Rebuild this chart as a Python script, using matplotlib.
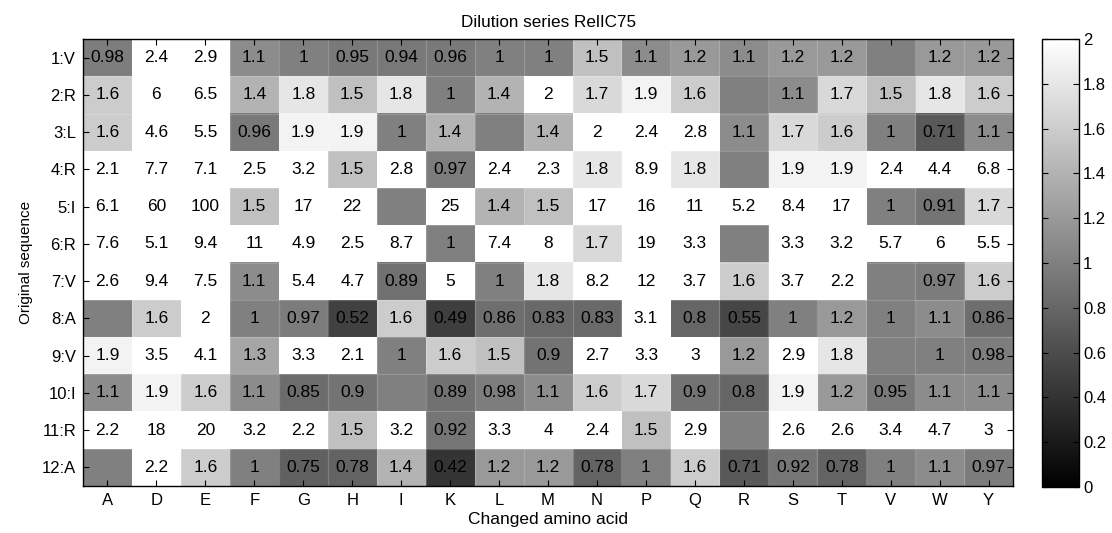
import numpy as np
import matplotlib
matplotlib.use('Agg')
import matplotlib.pyplot as plt

plt.rcParams['font.family'] = ['Liberation Sans', 'DejaVu Sans']

# changed amino acid (columns) and original sequence (rows)
amino_acids = ['A', 'D', 'E', 'F', 'G', 'H', 'I', 'K', 'L', 'M',
               'N', 'P', 'Q', 'R', 'S', 'T', 'V', 'W', 'Y']
positions = ['1:V', '2:R', '3:L', '4:R', '5:I', '6:R',
             '7:V', '8:A', '9:V', '10:I', '11:R', '12:A']

# RelIC75 per row; nan = wild-type residue (no label, drawn as mid grey)
nan = np.nan
row_1 = [0.98, 2.4, 2.9, 1.1, 1, 0.95, 0.94, 0.96, 1, 1, 1.5, 1.1, 1.2, 1.1, 1.2, 1.2, nan, 1.2, 1.2]
row_2 = [1.6, 6, 6.5, 1.4, 1.8, 1.5, 1.8, 1, 1.4, 2, 1.7, 1.9, 1.6, nan, 1.1, 1.7, 1.5, 1.8, 1.6]
row_3 = [1.6, 4.6, 5.5, 0.96, 1.9, 1.9, 1, 1.4, nan, 1.4, 2, 2.4, 2.8, 1.1, 1.7, 1.6, 1, 0.71, 1.1]
row_4 = [2.1, 7.7, 7.1, 2.5, 3.2, 1.5, 2.8, 0.97, 2.4, 2.3, 1.8, 8.9, 1.8, nan, 1.9, 1.9, 2.4, 4.4, 6.8]
row_5 = [6.1, 60, 100, 1.5, 17, 22, nan, 25, 1.4, 1.5, 17, 16, 11, 5.2, 8.4, 17, 1, 0.91, 1.7]
row_6 = [7.6, 5.1, 9.4, 11, 4.9, 2.5, 8.7, 1, 7.4, 8, 1.7, 19, 3.3, nan, 3.3, 3.2, 5.7, 6, 5.5]
row_7 = [2.6, 9.4, 7.5, 1.1, 5.4, 4.7, 0.89, 5, 1, 1.8, 8.2, 12, 3.7, 1.6, 3.7, 2.2, nan, 0.97, 1.6]
row_8 = [nan, 1.6, 2, 1, 0.97, 0.52, 1.6, 0.49, 0.86, 0.83, 0.83, 3.1, 0.8, 0.55, 1, 1.2, 1, 1.1, 0.86]
row_9 = [1.9, 3.5, 4.1, 1.3, 3.3, 2.1, 1, 1.6, 1.5, 0.9, 2.7, 3.3, 3, 1.2, 2.9, 1.8, nan, 1, 0.98]
row_10 = [1.1, 1.9, 1.6, 1.1, 0.85, 0.9, nan, 0.89, 0.98, 1.1, 1.6, 1.7, 0.9, 0.8, 1.9, 1.2, 0.95, 1.1, 1.1]
row_11 = [2.2, 18, 20, 3.2, 2.2, 1.5, 3.2, 0.92, 3.3, 4, 2.4, 1.5, 2.9, nan, 2.6, 2.6, 3.4, 4.7, 3]
row_12 = [nan, 2.2, 1.6, 1, 0.75, 0.78, 1.4, 0.42, 1.2, 1.2, 0.78, 1, 1.6, 0.71, 0.92, 0.78, 1, 1.1, 0.97]

rel_ic75 = np.array([row_1, row_2, row_3, row_4, row_5, row_6,
                     row_7, row_8, row_9, row_10, row_11, row_12])


def fmt(v):
    # matlab-ish num2str with 2 significant digits
    if v >= 10:
        return f'{v:.0f}'
    return f'{v:.2g}'


fig = plt.figure(figsize=(11.12, 5.33), dpi=100)
ax = fig.add_axes([0.0746, 0.0882, 0.8365, 0.8386])
cax = fig.add_axes([0.937, 0.0863, 0.0333, 0.8405])

cmap = plt.get_cmap('gray').copy()
cmap.set_bad(cmap(0.5))
im = ax.imshow(np.ma.masked_invalid(rel_ic75), cmap=cmap, vmin=0, vmax=2,
               aspect='auto', interpolation='nearest')

# faint seams between cells
n_rows, n_cols = rel_ic75.shape
for k in range(1, n_cols):
    ax.axvline(k - 0.5, color='white', alpha=0.18, lw=0.9)
for k in range(1, n_rows):
    ax.axhline(k - 0.5, color='white', alpha=0.18, lw=0.9)

for i in range(n_rows):
    for j in range(n_cols):
        v = rel_ic75[i, j]
        if np.isnan(v):
            continue
        ax.text(j, i, fmt(v), ha='center', va='center', fontsize=12.5, color='black')

ax.set_xticks(range(len(amino_acids)))
ax.set_xticklabels(amino_acids)
ax.set_yticks(range(len(positions)))
ax.set_yticklabels(positions)
ax.tick_params(direction='in', top=True, right=True, length=4, width=0.8,
               labelsize=12, pad=5)
for s in ax.spines.values():
    s.set_linewidth(1.0)

ax.set_title('Dilution series RelIC75', fontsize=12.3, pad=9)
ax.set_xlabel('Changed amino acid', fontsize=12.5, labelpad=3)
ax.set_ylabel('Original sequence', fontsize=11, labelpad=6)

cb = fig.colorbar(im, cax=cax, ticks=np.arange(0, 2.01, 0.2))
cb.ax.set_yticklabels(['0', '0.2', '0.4', '0.6', '0.8', '1', '1.2', '1.4', '1.6', '1.8', '2'])
cb.ax.tick_params(direction='in', left=True, right=True, length=4, labelsize=12, pad=3)
cb.outline.set_linewidth(1.0)

fig.savefig('out.png', dpi=100)
